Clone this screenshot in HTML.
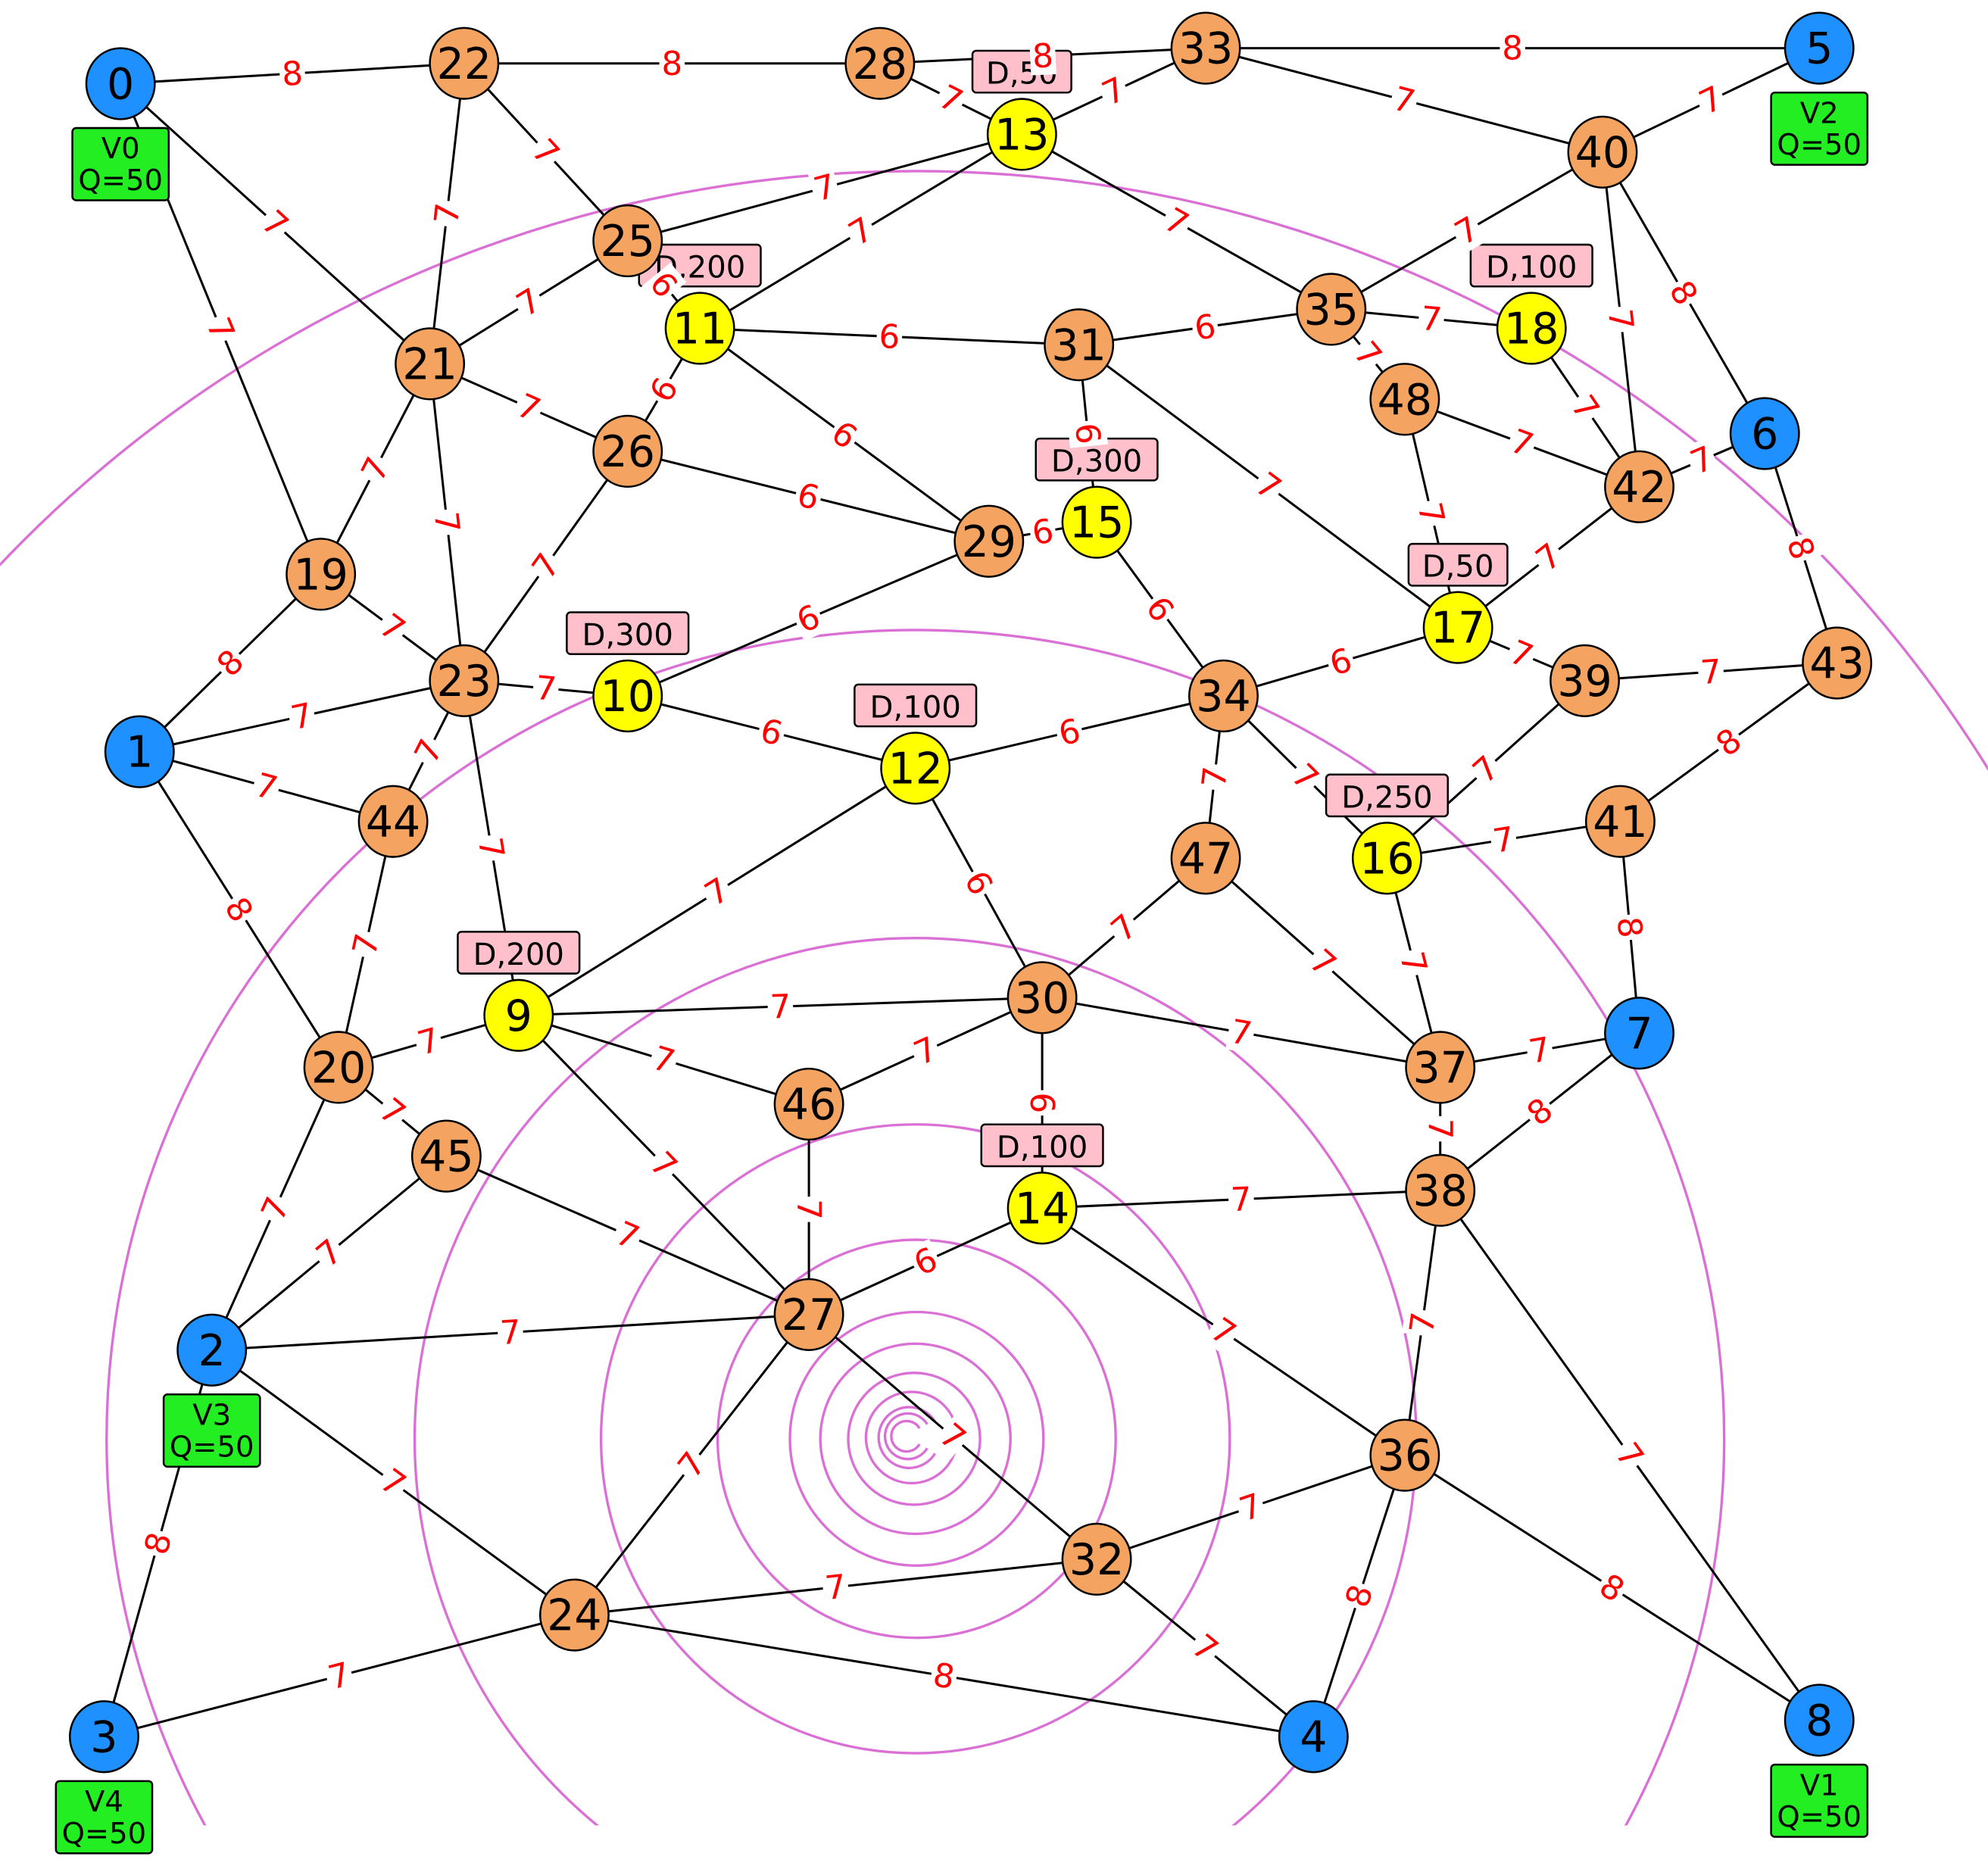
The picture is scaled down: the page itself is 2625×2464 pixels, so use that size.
<!DOCTYPE html>
<html><head><meta charset="utf-8"><style>
html,body{margin:0;padding:0;background:#fff;width:2625px;height:2464px;overflow:hidden;}
svg{display:block;}
</style></head><body>
<svg id="s" xmlns="http://www.w3.org/2000/svg" width="2625" height="2464" viewBox="0 0 1568 1472" font-family="'DejaVu Sans','Liberation Sans',sans-serif" style="overflow:hidden">
<defs><clipPath id="c"><rect x="0" y="0" width="1568" height="1440"/></clipPath></defs>
<g id="spiral" clip-path="url(#c)" fill="none" stroke="#da70d6" stroke-width="2"></g>
<g id="edges" stroke="#000" stroke-width="1.8"></g>
<g id="dboxes"></g>
<g id="elabels" fill="#ff0000" font-size="26" text-anchor="middle"></g>
<g id="nodes"></g>
<g id="vboxes"></g>
</svg>
<script>
var N={0:[95,66,'b'],1:[110,593,'b'],2:[167,1065,'b'],3:[82,1370,'b'],4:[1036,1370,'b'],5:[1435,38,'b'],6:[1392,342,'b'],7:[1293,815,'b'],8:[1435,1357,'b'],
9:[409,801,'y'],10:[495,549,'y'],11:[552,259,'y'],12:[722,606,'y'],13:[806,106,'y'],14:[822,953,'y'],15:[865,412,'y'],16:[1094,677,'y'],17:[1150,495,'y'],18:[1208,259,'y'],
19:[253,453,'o'],20:[267,842,'o'],21:[339,287,'o'],22:[366,50,'o'],23:[366,537,'o'],24:[453,1274,'o'],25:[495,190,'o'],26:[495,356,'o'],27:[638,1037,'o'],28:[694,50,'o'],29:[780,427,'o'],30:[822,787,'o'],31:[851,272,'o'],32:[865,1230,'o'],33:[951,38,'o'],34:[965,549,'o'],35:[1050,244,'o'],36:[1108,1148,'o'],37:[1136,842,'o'],38:[1136,939,'o'],39:[1250,537,'o'],40:[1264,120,'o'],41:[1278,648,'o'],42:[1293,384,'o'],43:[1449,523,'o'],44:[310,648,'o'],45:[352,912,'o'],46:[638,871,'o'],47:[951,677,'o'],48:[1108,315,'o']};
var E=[[0,22,8],[0,21,7],[0,19,7],[22,28,8],[22,21,7],[22,25,7],[28,13,7],[28,33,8],[33,13,7],[33,5,8],[33,40,7],[5,40,7],[13,25,7],[13,11,7],[13,35,7],[40,35,7],[40,6,8],[40,42,7],[25,21,7],[25,11,6],[21,19,7],[21,26,7],[21,23,7],[11,31,6],[11,26,6],[11,29,6],[31,35,6],[31,15,6],[31,17,7],[35,18,7],[35,48,7],[18,42,7],[48,42,7],[48,17,7],[42,6,7],[42,17,7],[6,43,8],[26,29,6],[26,23,7],[29,15,6],[29,10,6],[15,34,6],[19,1,8],[19,23,7],[1,23,7],[1,44,7],[1,20,8],[23,10,7],[23,44,7],[23,9,7],[10,12,6],[12,34,6],[12,9,7],[12,30,6],[34,17,6],[34,47,7],[34,16,7],[17,39,7],[39,43,7],[39,16,7],[43,41,8],[16,41,7],[16,37,7],[41,7,8],[44,20,7],[20,9,7],[20,45,7],[20,2,7],[9,30,7],[9,46,7],[9,27,7],[30,47,7],[30,37,7],[30,46,7],[30,14,6],[47,37,7],[37,7,7],[37,38,7],[38,7,8],[38,14,7],[38,36,7],[38,8,7],[46,27,7],[45,27,7],[45,2,7],[2,27,7],[2,24,7],[2,3,8],[14,27,6],[14,36,7],[27,24,7],[27,32,7],[36,32,7],[36,4,8],[36,8,8],[32,24,7],[32,4,7],[24,3,7],[24,4,8]];
var NS='http://www.w3.org/2000/svg';
function el(p,t,a,txt){var e=document.createElementNS(NS,t);for(var k in a)e.setAttribute(k,a[k]);if(txt!==undefined)e.textContent=txt;document.getElementById(p).appendChild(e);return e;}
var circ=[[715,1133,12,1],[716,1133,18,1],[717,1134,24,1],[719,1134,36,0],[721,1135,52,0],[722,1135,75,0],[723,1135,100,0],[723,1135,157,0],[722,1135,248,0],[722,1135,395,0],[722,1135,638,0],[722,1130,995,0]];
circ.forEach(function(c){
 if(c[3]){var r=c[2],a1=0.55,a2=-0.55;
  var x1=c[0]+r*Math.cos(a1),y1=c[1]+r*Math.sin(a1),x2=c[0]+r*Math.cos(a2),y2=c[1]+r*Math.sin(a2);
  el('spiral','path',{d:'M'+x1+' '+y1+' A'+r+' '+r+' 0 1 1 '+x2+' '+y2});}
 else el('spiral','circle',{cx:c[0],cy:c[1],r:c[2]});
});
E.forEach(function(e){var a=N[e[0]],b=N[e[1]];
 el('edges','line',{x1:a[0],y1:a[1],x2:b[0],y2:b[1]});
 var mx=(a[0]+b[0])/2,my=(a[1]+b[1])/2;
 var ang=Math.atan2(b[1]-a[1],b[0]-a[0])*180/Math.PI; if(ang>90)ang-=180; if(ang<-90)ang+=180;
 var g=document.createElementNS(NS,'g');g.setAttribute('transform','translate('+mx+','+my+') rotate('+ang.toFixed(1)+')');
 document.getElementById('elabels').appendChild(g);
 var r=document.createElementNS(NS,'rect');r.setAttribute('x',-10);r.setAttribute('y',-15);r.setAttribute('width',20);r.setAttribute('height',30);r.setAttribute('fill','#fff');g.appendChild(r);
 var t=document.createElementNS(NS,'text');t.setAttribute('y',9);t.textContent=e[2];g.appendChild(t);
});
var D=[[13,'D,50'],[11,'D,200'],[18,'D,100'],[15,'D,300'],[17,'D,50'],[10,'D,300'],[12,'D,100'],[16,'D,250'],[9,'D,200'],[14,'D,100']];
D.forEach(function(d){var n=N[d[0]],w=d[1].length>4?96:78;
 el('dboxes','rect',{x:n[0]-w/2,y:n[1]-66,width:w,height:33,rx:3,fill:'#ffc0cb',stroke:'#000','stroke-width':1.5});
 el('dboxes','text',{x:n[0],y:n[1]-40,'font-size':24,'text-anchor':'middle',fill:'#000'},d[1]);
});
var col={b:'#1e90ff',y:'#ffff00',o:'#f4a460'};
for(var k in N){var n=N[k];
 el('nodes','ellipse',{cx:n[0],cy:n[1],rx:27,ry:28,fill:col[n[2]],stroke:'#000','stroke-width':1.5});
 el('nodes','text',{x:n[0],y:n[1]+12,'font-size':34,'text-anchor':'middle',fill:'#000'},k);
}
var V=[[0,'V0'],[5,'V2'],[2,'V3'],[3,'V4'],[8,'V1']];
V.forEach(function(v){var n=N[v[0]];
 el('vboxes','rect',{x:n[0]-38,y:n[1]+35,width:76,height:57,rx:3,fill:'#22ee22',stroke:'#000','stroke-width':1.5});
 el('vboxes','text',{x:n[0],y:n[1]+59,'font-size':23,'text-anchor':'middle',fill:'#000'},v[1]);
 el('vboxes','text',{x:n[0],y:n[1]+84,'font-size':23,'text-anchor':'middle',fill:'#000'},'Q=50');
});
</script>
</body></html>
